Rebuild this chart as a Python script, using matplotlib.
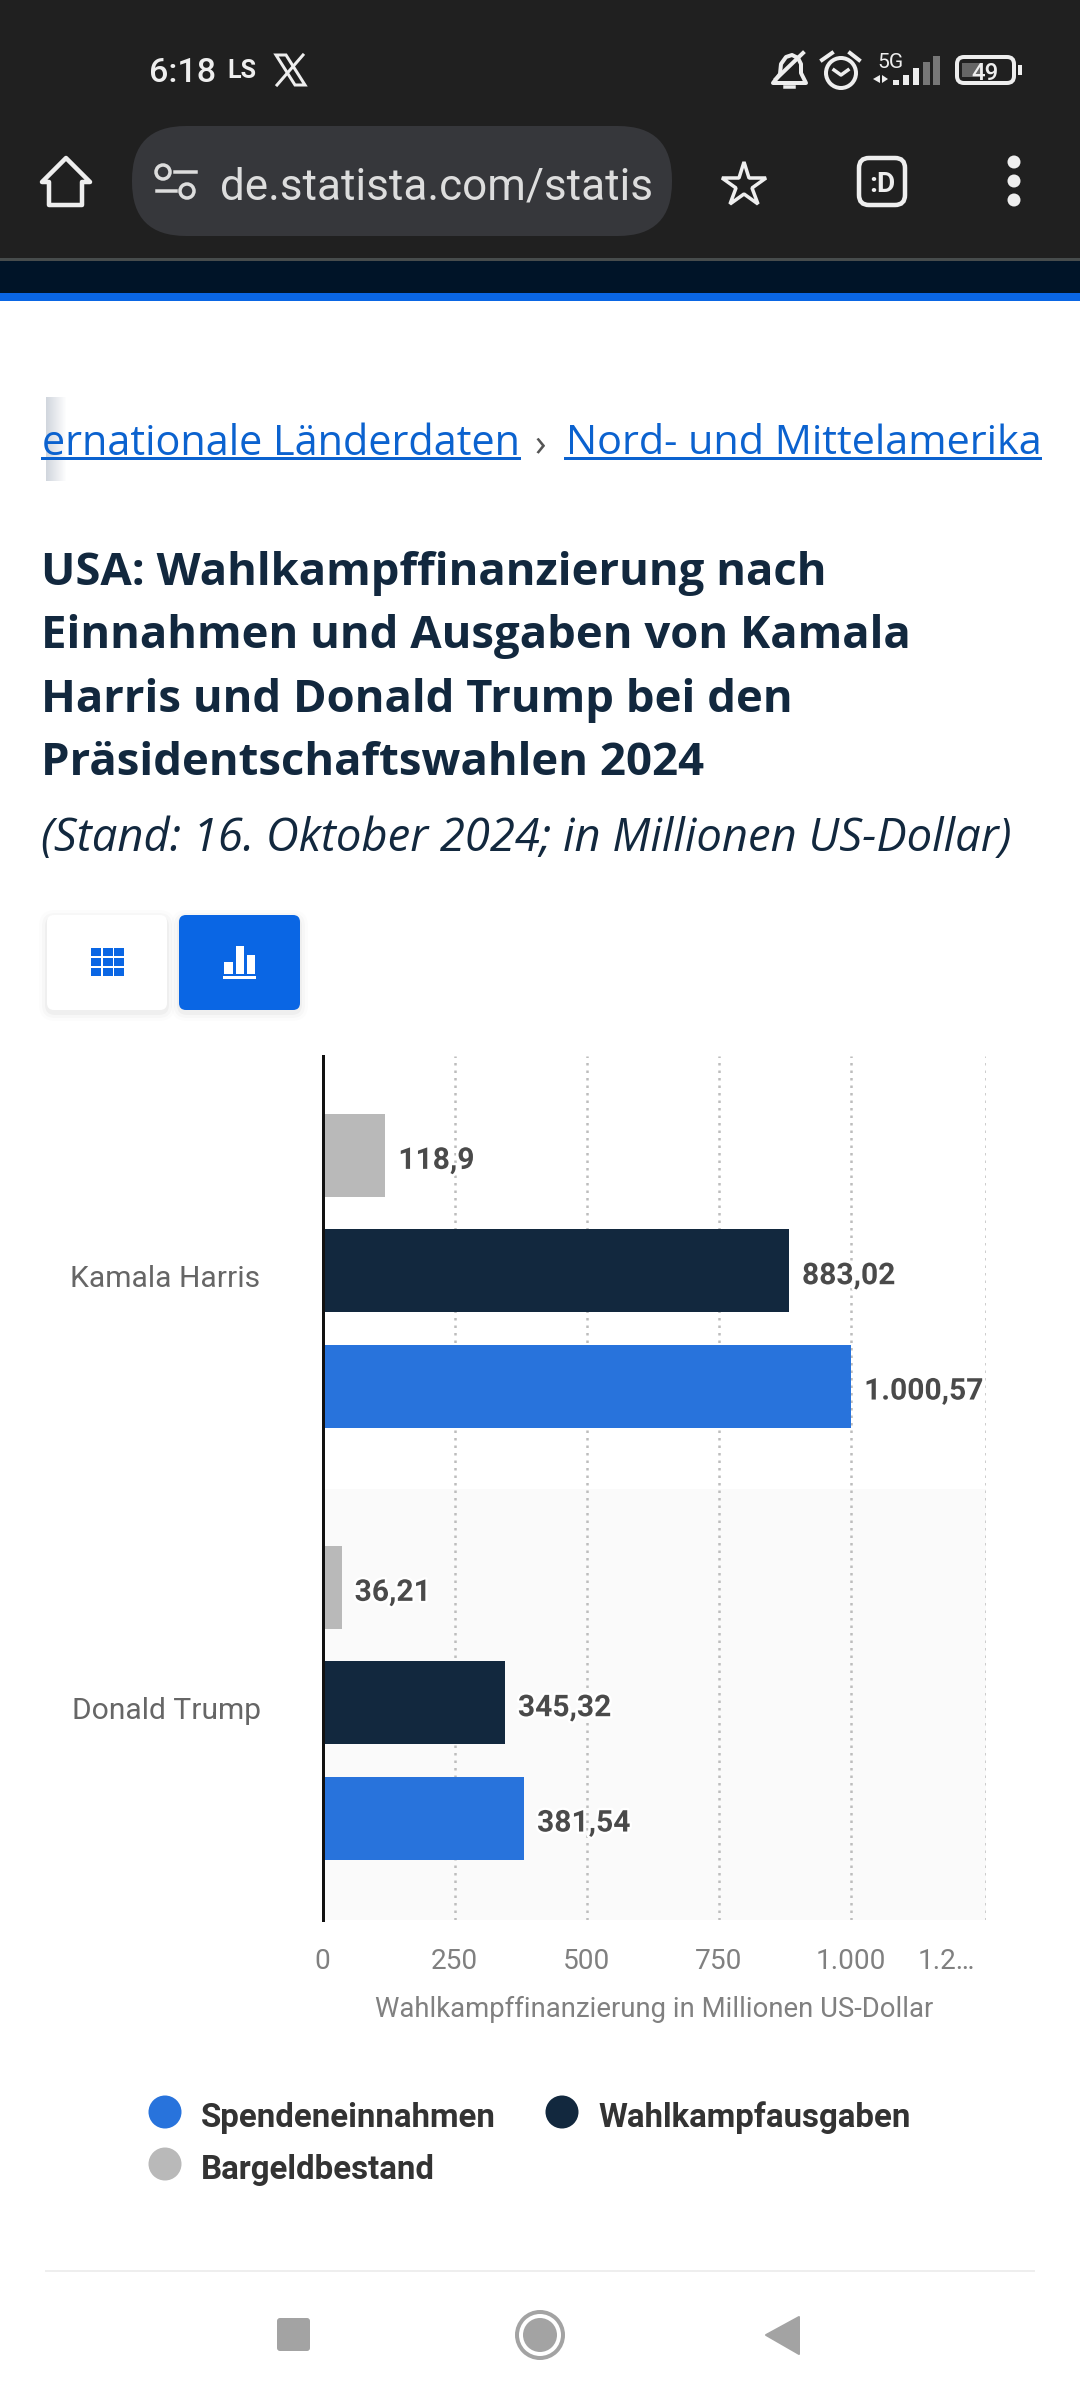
import matplotlib
matplotlib.use('Agg')
import matplotlib.pyplot as plt
from matplotlib.patches import Circle, FancyBboxPatch, Polygon, Rectangle
from matplotlib.transforms import ScaledTranslation
import matplotlib.patheffects as pe

# chart data
candidates = ['Kamala Harris', 'Donald Trump']
cash_on_hand = [118.9, 36.21]
spending = [883.02, 345.32]
donations = [1000.57, 381.54]
cash_labels = ['118,9', '36,21']
spending_labels = ['883,02', '345,32']
donation_labels = ['1.000,57', '381,54']
x_ticks = [0, 250, 500, 750, 1000, 1255]
x_tick_labels = ['0', '250', '500', '750', '1.000', '1.2…']
x_title = 'Wahlkampffinanzierung in Millionen US-Dollar'
legend_names = ['Spendeneinnahmen', 'Wahlkampfausgaben', 'Bargeldbestand']

title_lines = ['USA: Wahlkampffinanzierung nach',
               'Einnahmen und Ausgaben von Kamala',
               'Harris und Donald Trump bei den',
               'Präsidentschaftswahlen 2024']
subtitle = '(Stand: 16. Oktober 2024; in Millionen US-Dollar)'

BLUE = '#2873dc'
NAVY = '#12283e'
GRAY = '#b9b9b9'
LINK = '#0b62cf'
ICON = '#eeeeee'
DPI = 100


def px(size):
    """ Pixel size to points. """
    return size * 72 / DPI


fig = plt.figure(figsize=(10.8, 24), dpi=DPI, facecolor='white')

# the page around the chart, in screen pixels
page = fig.add_axes([0, 0, 1, 1])
page.set_xlim(0, 1080)
page.set_ylim(2400, 0)
page.axis('off')


def box(x0, y0, x1, y1, color, **kw):
    page.add_patch(Rectangle((x0, y0), x1 - x0, y1 - y0, facecolor=color, edgecolor='none', **kw))


def rounded(x0, y0, x1, y1, r, **kw):
    page.add_patch(FancyBboxPatch((x0 + r, y0 + r), x1 - x0 - 2 * r, y1 - y0 - 2 * r,
                                  boxstyle=f'round,pad={r},rounding_size={r}', **kw))


def label(x, y, s, size, color, family='Roboto', weight='normal', ha='left', style='normal'):
    page.text(x, y, s, fontsize=px(size), color=color, family=family, weight=weight,
              ha=ha, va='center_baseline', style=style)


# browser chrome
box(0, 0, 1080, 258, '#202020')
box(0, 258, 1080, 261, '#474c4c')
box(0, 261, 1080, 293, '#001428')
box(0, 293, 1080, 301, '#0a66e4')

label(149, 70, '6:18', 34, ICON, weight='medium')
label(227, 69, 'LS', 25, ICON, weight='bold')
page.add_patch(Polygon([(276, 55), (286, 55), (305, 85), (295, 85)], closed=True, fill=False,
                       edgecolor=ICON, lw=px(3)))
page.plot([303, 277], [55, 85], color=ICON, lw=px(3))

# bell with slash
page.add_patch(Polygon([(773, 83), (780, 74), (781, 64), (786, 57), (792, 55), (798, 58), (801, 64),
                        (801, 73), (806, 83)],
                       closed=True, facecolor='#202020', edgecolor=ICON, lw=px(4), joinstyle='round'))
page.plot([776, 803], [79, 53], color=ICON, lw=px(4))
page.plot([785, 794], [87, 87], color=ICON, lw=px(3.5))
# alarm
page.add_patch(Circle((841, 73), 15, fill=False, edgecolor=ICON, lw=px(4)))
page.plot([834, 841, 848], [70, 75, 70], color=ICON, lw=px(3.5))
page.plot([822, 832], [60, 53], color=ICON, lw=px(4))
page.plot([850, 859], [53, 60], color=ICON, lw=px(4))
# network
label(877, 61, '5G', 21, ICON)
page.add_patch(Polygon([(873, 79), (880, 75), (880, 83)], closed=True, facecolor=ICON))
page.add_patch(Polygon([(882, 75), (888, 79), (882, 83)], closed=True, facecolor=ICON))
for bx, top, col in [(896, 80, ICON), (906, 75, ICON), (916, 68, ICON), (926.5, 62, '#777777'), (936.5, 56, '#777777')]:
    box(bx - 3.2, top, bx + 3.2, 85, col)
# battery
rounded(957, 57, 1014, 83, 7, fill=False, edgecolor=ICON, lw=px(4))
box(962, 63, 980, 77, '#666666')
label(985, 71, '49', 24, ICON, ha='center', weight='medium')
box(1018, 65, 1022, 75, ICON)

# toolbar
page.add_patch(Polygon([(66, 158), (90, 182), (82, 182), (82, 205), (49, 205), (49, 182), (42, 182)],
                       closed=True, fill=False, edgecolor=ICON, lw=px(4.5), joinstyle='round'))
rounded(132, 126, 672, 236, 54, facecolor='#36373b', edgecolor='none')
page.add_patch(Circle((163, 172), 7, fill=False, edgecolor='#dddddd', lw=px(3.5)))
page.add_patch(Circle((187, 191), 7, fill=False, edgecolor='#dddddd', lw=px(3.5)))
page.plot([175, 196], [172, 172], color='#dddddd', lw=px(3.5))
page.plot([157, 176], [191, 191], color='#dddddd', lw=px(3.5))
label(220, 183, 'de.statista.com/statis', 44, '#dddddd')
page.plot([744], [185], marker='*', ms=px(46), mfc='none', mec=ICON, mew=px(3.5))
rounded(859, 158, 905, 205, 10, fill=False, edgecolor=ICON, lw=px(4.5))
label(882, 181, ':D', 28, ICON, weight='bold', ha='center')
for dot_y in [162, 181, 200]:
    page.add_patch(Circle((1014, dot_y), 6.5, facecolor=ICON, edgecolor='none'))

# breadcrumb
for i in range(20):
    box(46 + i, 397, 47 + i, 481, '#ccd2da', alpha=0.9 * (1 - i / 20))
label(42, 439, 'ernationale Länderdaten', 41.5, LINK, family='Open Sans')
page.plot([42, 519], [458, 458], color=LINK, lw=px(3))
label(540, 441, '›', 38, '#555555', family='Open Sans', ha='center')
label(566, 439, 'Nord- und Mittelamerika', 41.4, LINK, family='Open Sans')
page.plot([565, 1040], [458, 458], color=LINK, lw=px(3))

# heading
for line, line_y in zip(title_lines, [568, 631, 695, 758]):
    label(41, line_y, line, 45.5, '#12283e', family='Open Sans', weight='bold')
label(41, 834, subtitle, 45.4, '#12283e', family='Open Sans', style='italic')

# table / chart buttons
for grow, alpha in [(8, 0.012), (5, 0.018), (2, 0.03)]:
    rounded(47 - grow, 915 - grow + 3, 167 + grow, 1010 + grow + 3, 8 + grow, facecolor='black',
            edgecolor='none', alpha=alpha)
    rounded(179 - grow, 915 - grow + 3, 300 + grow, 1010 + grow + 3, 8 + grow, facecolor='black',
            edgecolor='none', alpha=alpha)
rounded(47, 915, 167, 1010, 7, facecolor='white', edgecolor='none')
rounded(179, 915, 300, 1010, 7, facecolor='#0a66e4', edgecolor='none')
for col in range(3):
    for row in range(3):
        box(91 + col * 11.5, 948 + row * 9.8, 101 + col * 11.5, 956 + row * 9.8, '#0a66e4')
box(224, 962, 233, 974, 'white')
box(236, 946, 244, 974, 'white')
box(247, 955, 255, 974, 'white')
box(223, 976, 256, 979, 'white')

# chart
ax = fig.add_axes([322.5 / 1080, 1 - 1920 / 2400, (985.5 - 322.5) / 1080, 864 / 2400])
ax.patch.set_alpha(0)
positions = list(range(len(candidates)))
bar_h = 0.192
step = 0.267

ax.axhspan(0.506, 1.503, facecolor='#fafafa', edgecolor='none', zorder=0)
ax.grid(axis='x', color='#bdbdbd', linestyle=(0, (1, 2)), linewidth=px(2.5), zorder=1)
ax.set_axisbelow(True)

series = [(cash_on_hand, cash_labels, GRAY, -step),
          (spending, spending_labels, NAVY, 0),
          (donations, donation_labels, BLUE, step)]
for values, texts, color, offset in series:
    ys = [p + offset for p in positions]
    ax.barh(ys, values, height=bar_h, color=color, zorder=2)
    for val, txt, y in zip(values, texts, ys):
        ax.annotate(txt, (val, y), xytext=(px(13), -px(5.5)), textcoords='offset points',
                    fontsize=px(30), family='Roboto', weight='bold', color='#4a4a4a',
                    va='center', ha='left', zorder=3,
                    path_effects=[pe.withStroke(linewidth=px(5), foreground='white')])

ax.set_xlim(0, 1255)
ax.set_ylim(1.503, -0.497)
ax.set_yticks(positions, candidates, fontsize=px(30), family='Roboto', color='#666666')
ax.set_xticks(x_ticks, x_tick_labels, fontsize=px(28), family='Roboto', color='#808080')
ax.tick_params(axis='y', length=0, pad=px(62))
ax.tick_params(axis='x', length=0, pad=px(28))
down = ScaledTranslation(0, -5 / DPI, fig.dpi_scale_trans)
for tick_label in ax.get_yticklabels():
    tick_label.set_transform(tick_label.get_transform() + down)
last = ax.get_xticklabels()[-1]
last.set_ha('right')
last.set_transform(last.get_transform() + ScaledTranslation(-11 / DPI, 0, fig.dpi_scale_trans))
ax.set_xlabel(x_title, fontsize=px(27.5), family='Roboto', color='#808080', labelpad=px(21))
for side in ['top', 'right', 'bottom']:
    ax.spines[side].set_visible(False)
ax.spines['left'].set_linewidth(px(3))
ax.spines['left'].set_color('#111111')

# legend
legend_spots = [(165, 2112, BLUE), (562, 2112, NAVY), (165, 2164, GRAY)]
for name, (lx, ly, color) in zip(legend_names, legend_spots):
    page.add_patch(Circle((lx, ly), 16.5, facecolor=color, edgecolor='none'))
    label(lx + 36, ly + 2, name, 33, '#333333', weight='bold')

# phone navigation bar
page.plot([46, 1034], [2271, 2271], color='#eeeeee', lw=px(2))
rounded(277, 2318, 310, 2351, 3, facecolor='#a3a3a3', edgecolor='none')
page.add_patch(Circle((540, 2335), 23, fill=False, edgecolor='#a3a3a3', lw=px(4)))
page.add_patch(Circle((540, 2335), 17, facecolor='#a3a3a3', edgecolor='none'))
page.add_patch(Polygon([(766, 2335), (799, 2317), (799, 2354)], closed=True, facecolor='#a3a3a3',
                       edgecolor='#a3a3a3', lw=px(2), joinstyle='round'))

fig.savefig('out.png', dpi=DPI)
